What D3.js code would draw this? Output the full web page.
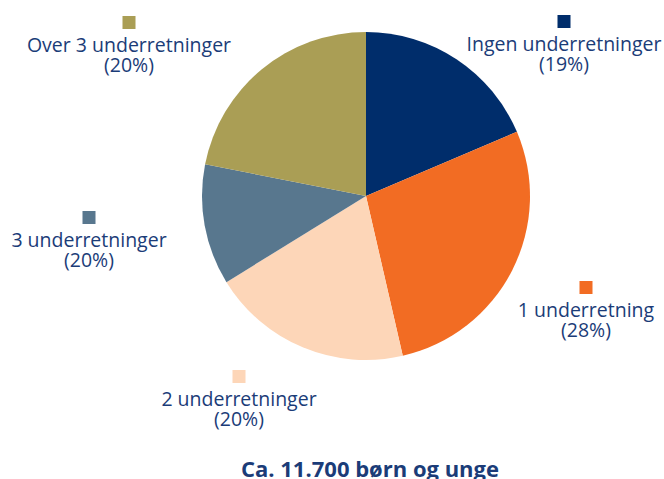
<!DOCTYPE html>
<html>
<head>
<meta charset="utf-8">
<script src="https://cdn.jsdelivr.net/npm/d3@7"></script>
<style>
  body { margin: 0; background: #fff; }
  svg { display: block; font-family: "Open Sans", Lato, sans-serif; }
</style>
</head>
<body>
<svg id="chart" width="664" height="479"></svg>
<script>
// slices clockwise from 12 o'clock
var categories = ["Ingen underretninger", "1 underretning", "2 underretninger", "3 underretninger", "Over 3 underretninger"];
var shares = [18.6, 27.8, 19.8, 11.9, 21.9];
var labelPct = ["(19%)", "(28%)", "(20%)", "(20%)", "(20%)"];
var colors = ["#002d6b", "#f26c23", "#fdd6b8", "#58778e", "#aa9e55"];
var title = "Ca. 11.700 børn og unge";

// where each label block sits (centre x, top of square)
var labelPos = [[564, 15], [586, 281], [239, 370], [89, 211], [129, 16]];

var svg = d3.select("#chart");
var cx = 366, cy = 196, radius = 164;
var textColor = "#1b3c78";

var pie = d3.pie().sort(null).value(function(d) { return d; });
var arc = d3.arc().innerRadius(0).outerRadius(radius);

var g = svg.append("g").attr("transform", "translate(" + cx + "," + cy + ")");
g.selectAll("path")
    .data(pie(shares))
    .enter().append("path")
    .attr("d", arc)
    .attr("fill", function(d, i) { return colors[i]; });

var lab = svg.selectAll(".lab")
    .data(categories)
    .enter().append("g")
    .attr("class", "lab")
    .attr("transform", function(d, i) { return "translate(" + labelPos[i][0] + "," + labelPos[i][1] + ")"; });

lab.append("rect")
    .attr("x", -6.5).attr("y", 0)
    .attr("width", 13).attr("height", 13)
    .attr("fill", function(d, i) { return colors[i]; });

lab.append("text")
    .attr("text-anchor", "middle")
    .attr("y", 35.5)
    .attr("font-size", 19.5)
    .attr("fill", textColor)
    .text(function(d) { return d; });

lab.append("text")
    .attr("text-anchor", "middle")
    .attr("y", 56)
    .attr("font-size", 19.5)
    .attr("fill", textColor)
    .text(function(d, i) { return labelPct[i]; });

svg.append("text")
    .attr("x", 370).attr("y", 477)
    .attr("text-anchor", "middle")
    .attr("font-size", 22)
    .attr("font-weight", "bold")
    .attr("fill", textColor)
    .text(title);
</script>
</body>
</html>
